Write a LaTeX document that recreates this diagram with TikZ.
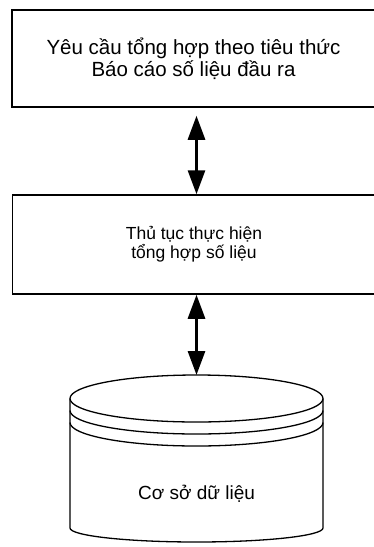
\documentclass[tikz,border=0pt]{standalone}
\usepackage{fontspec}
\setmainfont{Liberation Sans}
\usetikzlibrary{arrows.meta}
\begin{document}
\begin{tikzpicture}[x=1pt, y=-1pt,
	box/.style={draw, line width=1.5pt, minimum width=363pt, minimum height=97pt, align=center, inner sep=0pt},
	link/.style={line width=3pt, {Triangle[width=17pt,length=24pt]}-{Triangle[width=17pt,length=24pt]}}]
	\useasboundingbox (0,0) rectangle (373,547);
	\node[box, font=\fontsize{20.5}{22}\selectfont] (req) at (193.5,58.5) {Yêu cầu tổng hợp theo tiêu thức\\Báo cáo số liệu đầu ra};
	\node[box, minimum height=99pt, font=\fontsize{17.5}{19}\selectfont] (proc) at (194,244.5) {Thủ tục thực hiện\\tổng hợp số liệu};
	% database drum
	\coordinate (dbtop) at (196.5,375);
	\draw[line width=1.3pt] (196.5,398.5) ellipse (126.5pt and 23.5pt);
	\draw[line width=1.3pt] (70,410.5) arc[start angle=180, end angle=360, x radius=126.5pt, y radius=23.5pt];%rings
	\draw[line width=1.3pt] (70,422.5) arc[start angle=180, end angle=360, x radius=126.5pt, y radius=23.5pt];
	\draw[line width=1.3pt] (70,398.5) -- (70,528) arc[start angle=180, end angle=360, x radius=126.5pt, y radius=14pt] -- (323,398.5);
	\node[font=\fontsize{19}{22}\selectfont] (db) at (196.5,494) {Cơ sở dữ liệu};
	\draw[link, shorten <=8pt] (req.south -| db) -- (proc.north -| db);
	\draw[link] (proc.south -| db) -- (dbtop);
\end{tikzpicture}
\end{document}
